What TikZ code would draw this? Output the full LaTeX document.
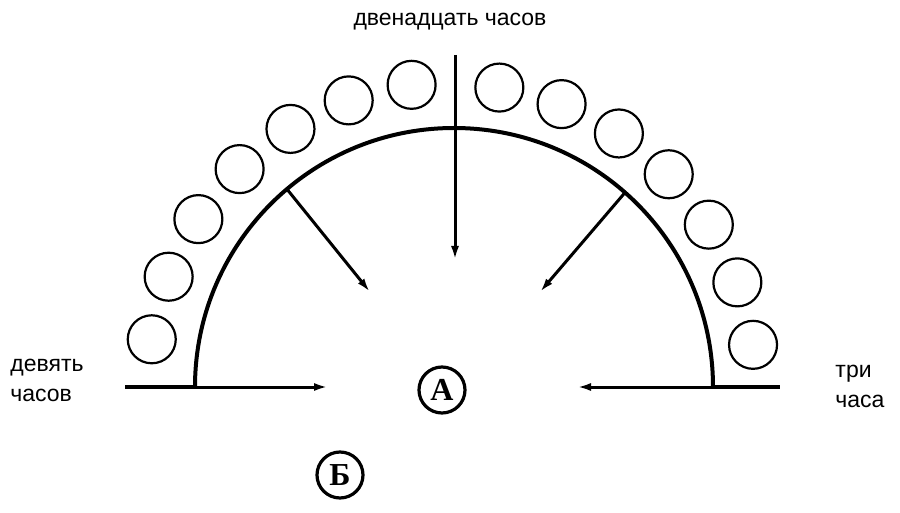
\documentclass[tikz,border=0pt]{standalone}
\usepackage{fontspec}
\setmainfont{Liberation Serif}
\newfontfamily\lbl{Liberation Sans}
\usetikzlibrary{arrows.meta}
\begin{document}
\begin{tikzpicture}[x=1pt,y=-1pt,
  thick line/.style={line width=4pt},
  arr/.style={line width=3pt,-{Latex[length=14pt,width=8pt]}},
  ball/.style={circle,draw,line width=2.2pt,minimum size=48pt,inner sep=0pt},
  letter/.style={circle,draw,line width=3.2pt,inner sep=1pt,minimum size=46pt,font=\bfseries\fontsize{32}{34}\selectfont},
  txt/.style={font=\lbl\fontsize{23}{30}\selectfont,align=left}]
\useasboundingbox (0,0) rectangle (900,513);
\coordinate (L) at (195,387);
\coordinate (R) at (712,387);
\draw[thick line] (L) arc[start angle=180,end angle=360,radius=259];
\coordinate (Lout) at (125,387);
\coordinate (Rout) at (780,387);
\draw[thick line] (Lout) -- (L);
\draw[thick line] (R) -- (Rout);
\foreach \i in {0,...,6}{
  \pgfmathsetmacro\a{171-12.2*\i}
  \node[ball] (bl\i) at ({453+305*cos(\a)},{387-305*sin(\a)}) {};
  \pgfmathsetmacro\b{8+12.2*\i}
  \node[ball] (br\i) at ({453+303*cos(\b)},{387-303*sin(\b)}) {};
}
\coordinate (Ltip) at (328,387);
\coordinate (Rtip) at (577,387);
\draw[arr] (L) -- (Ltip);
\draw[arr] (R) -- (Rtip);
\coordinate (Ttop) at (455,55);
\coordinate (Ttip) at (455,260);
\draw[arr] (Ttop) -- (Ttip);
\coordinate (DL) at ({453+259*cos(130)},{387-259*sin(130)});
\coordinate (DLtip) at (370,292);
\coordinate (DR) at ({453+259*cos(48.5)},{387-259*sin(48.5)});
\coordinate (DRtip) at (540,292);
\draw[arr] (DL) -- (DLtip);
\draw[arr] (DR) -- (DRtip);
\node[letter] (A) at (442,390) {А};
\node[letter] (B) at (340,475) {Б};
\node[txt] (t12) at (450,22) {двенадцать часов};
\node[txt] (t9) at (47,380) {девять\\часов};
\node[txt] (t3) at (860,386) {три\\часа};
\end{tikzpicture}
\end{document}
